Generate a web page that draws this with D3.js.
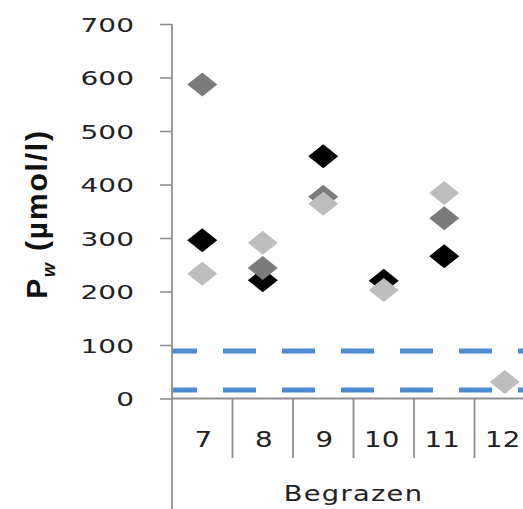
<!DOCTYPE html>
<html>
<head>
<meta charset="utf-8">
<script src="https://cdn.jsdelivr.net/npm/d3@7"></script>
<style>
  html, body { margin: 0; padding: 0; background: #fff; overflow: hidden; }
  svg { display: block; }
</style>
</head>
<body>
<svg id="chart" width="523" height="509"></svg>
<script>
// Plot numbers per grazed plot (Begrazen)
const categories = ["7", "8", "9", "10", "11", "12"];
// Three measurement series (null = no measurement)
const seriesBlack = [296, 221, 453, 220, 266, null];
const seriesDark  = [587, 244, 377, null, 337, null];
const seriesLight = [233, 291, 364, 203, 384, 31];
// Reference levels (dashed lines)
const refLevels = [89, 16];
const yTicks = [0, 100, 200, 300, 400, 500, 600, 700];
const groupLabel = "Begrazen";

const svg = d3.select("#chart");
const W = 523, H = 509;
const axisColor = "#8f8f8f";
const textColor = "#222";

const x = d3.scaleBand().domain(categories).range([172, 535]).padding(0);
const y = d3.scaleLinear().domain([0, 700]).range([398.5, 24]);

// Reference lines
svg.append("g").selectAll("line").data(refLevels).join("line")
  .attr("x1", x.range()[0]).attr("x2", W)
  .attr("y1", d => y(d)).attr("y2", d => y(d))
  .attr("stroke", "#4f8ad5").attr("stroke-width", 5)
  .attr("stroke-dasharray", "33 26").attr("stroke-dashoffset", 8);

// Y axis
const yAxis = svg.append("g").attr("transform", `translate(${x.range()[0]},0)`)
  .call(d3.axisLeft(y).tickValues(yTicks).tickSize(12).tickFormat(""));
yAxis.select(".domain").remove();
yAxis.selectAll(".tick line").attr("stroke", axisColor).attr("stroke-width", 1.6);
svg.append("line")
  .attr("x1", x.range()[0]).attr("x2", x.range()[0])
  .attr("y1", y(700)).attr("y2", H)
  .attr("stroke", axisColor).attr("stroke-width", 1.8);

// Y tick labels (wide lettering)
svg.append("g").selectAll("g").data(yTicks).join("g")
  .attr("transform", d => `translate(134,${y(d) + 7.5}) scale(1.4,1)`)
  .append("text")
  .attr("text-anchor", "end")
  .attr("font-family", "DejaVu Sans")
  .attr("font-size", 20)
  .attr("fill", textColor)
  .text(d => d);

// X axis line and category dividers
svg.append("line")
  .attr("x1", x.range()[0]).attr("x2", W)
  .attr("y1", y(0)).attr("y2", y(0))
  .attr("stroke", axisColor).attr("stroke-width", 1.8);
svg.append("g").selectAll("line").data(categories.slice(1)).join("line")
  .attr("x1", d => x(d)).attr("x2", d => x(d))
  .attr("y1", y(0)).attr("y2", 458)
  .attr("stroke", axisColor).attr("stroke-width", 1.8);

// Category labels
svg.append("g").selectAll("g").data(categories).join("g")
  .attr("transform", d => `translate(${x(d) + x.bandwidth() / 2 - (d.length > 1 ? 2 : -1)},447) scale(1.32,1)`)
  .append("text")
  .attr("text-anchor", "middle")
  .attr("font-family", "DejaVu Sans")
  .attr("font-size", 21)
  .attr("fill", textColor)
  .text(d => d);

// Group label
svg.append("g")
  .attr("transform", `translate(${(x.range()[0] + x.range()[1]) / 2},501) scale(1.3,1)`)
  .append("text")
  .attr("text-anchor", "middle")
  .attr("font-family", "DejaVu Sans")
  .attr("font-size", 21)
  .attr("letter-spacing", 1)
  .attr("fill", textColor)
  .text(groupLabel);

// Y axis title
const yTitle = svg.append("text")
  .attr("transform", "translate(47,214) rotate(-90)")
  .attr("text-anchor", "middle")
  .attr("font-family", "Liberation Sans")
  .attr("font-weight", "bold")
  .attr("font-size", 30)
  .attr("letter-spacing", 1.8)
  .attr("fill", "#111");
yTitle.append("tspan").text("P");
yTitle.append("tspan").attr("font-style", "italic").attr("font-size", 18).attr("dy", 8).text("w");
yTitle.append("tspan").attr("dy", -8).text(" (µmol/l)");

// Diamond markers
const diamond = (cx, cy) => `M${cx - 15},${cy}L${cx},${cy - 12}L${cx + 15},${cy}L${cx},${cy + 12}Z`;
const series = [
  { values: seriesBlack, fill: "#000000" },
  { values: seriesDark,  fill: "#7b7b7b" },
  { values: seriesLight, fill: "#bdbdbd" }
];
series.forEach(s => {
  svg.append("g").selectAll("path")
    .data(categories.map((c, i) => ({ c, v: s.values[i] })).filter(d => d.v != null))
    .join("path")
    .attr("d", d => diamond(x(d.c) + x.bandwidth() / 2, y(d.v)))
    .attr("fill", s.fill);
});
</script>
</body>
</html>
